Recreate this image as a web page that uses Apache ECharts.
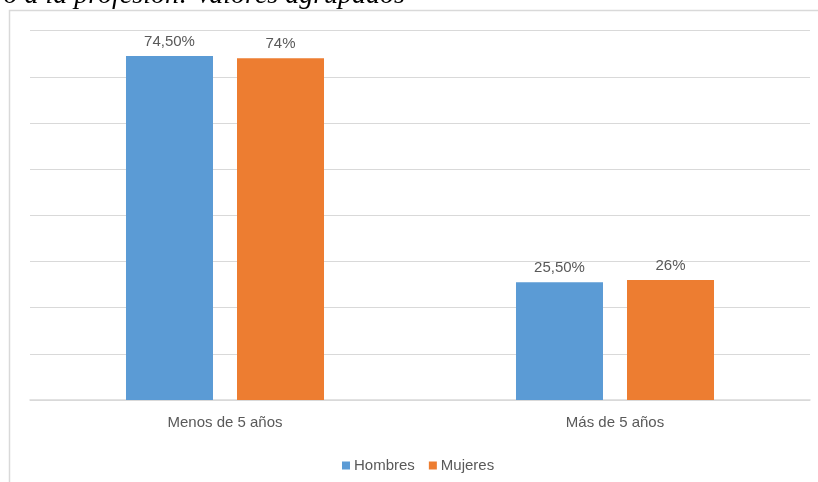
<!DOCTYPE html>
<html>
<head>
<meta charset="utf-8">
<script src="https://cdn.jsdelivr.net/npm/echarts@6/dist/echarts.min.js"></script>
<style>
  html, body { margin: 0; padding: 0; background: #ffffff; }
  #chart { width: 818px; height: 482px; }
</style>
</head>
<body>
<div id="chart"></div>
<script>
// Years in the profession, grouped values
const categories = ['Menos de 5 años', 'Más de 5 años'];
const seriesNames = ['Hombres', 'Mujeres'];
const hombres = [74.5, 25.5];
const mujeres = [74, 26];
const titleText = 'o a la profesión: Valores agrupados';

// Percent labels with a decimal comma: 74.5 -> "74,50%", 74 -> "74%"
function pct(v) {
  return Number.isInteger(v) ? v + '%' : v.toFixed(2).replace('.', ',') + '%';
}

const FONT = 'Liberation Sans, Arial, sans-serif';
const chart = echarts.init(document.getElementById('chart'), null, { renderer: 'canvas' });

const labelStyle = {
  show: true,
  position: 'top',
  distance: 7,
  color: '#595959',
  fontSize: 15,
  fontFamily: FONT,
  formatter: p => pct(p.value)
};

chart.setOption({
  animation: false,
  backgroundColor: '#ffffff',
  graphic: [
    {
      type: 'text',
      x: 405,
      y: 10,
      z: 10,
      style: {
        text: titleText,
        textAlign: 'right',
        textVerticalAlign: 'bottom',
        align: 'right',
        verticalAlign: 'bottom',
        font: 'italic 28px "Liberation Serif", serif',
        fill: '#000000'
      }
    },
    {
      type: 'polyline',
      shape: { points: [[9.5, 482], [9.5, 10.5], [818, 10.5]] },
      style: { stroke: '#d9d9d9', lineWidth: 1.5, fill: null }
    }
  ],
  grid: { left: 30, right: 8, top: 30.6, bottom: 82, containLabel: false },
  legend: {
    data: seriesNames,
    left: 337,
    top: 453,
    itemWidth: 8,
    itemHeight: 8,
    itemGap: 14,
    icon: 'rect',
    textStyle: { color: '#595959', fontSize: 15, fontFamily: FONT, padding: [0, 0, 0, -1] }
  },
  xAxis: {
    type: 'category',
    data: categories,
    axisLine: { lineStyle: { color: '#d9d9d9', width: 1.5 } },
    axisTick: { show: false },
    axisLabel: {
      color: '#595959',
      fontSize: 15,
      margin: 15,
      fontFamily: FONT
    }
  },
  yAxis: {
    type: 'value',
    min: 0,
    max: 80,
    interval: 10,
    axisLine: { show: false },
    axisTick: { show: false },
    axisLabel: { show: false },
    splitLine: { lineStyle: { color: '#d9d9d9', width: 1 } }
  },
  series: [
    {
      name: seriesNames[0],
      type: 'bar',
      data: hombres,
      barWidth: 87,
      barGap: '27.6%',
      itemStyle: { color: '#5b9bd5' },
      label: labelStyle
    },
    {
      name: seriesNames[1],
      type: 'bar',
      data: mujeres,
      barWidth: 87,
      barGap: '27.6%',
      itemStyle: { color: '#ed7d31' },
      label: labelStyle
    }
  ]
});
</script>
</body>
</html>
